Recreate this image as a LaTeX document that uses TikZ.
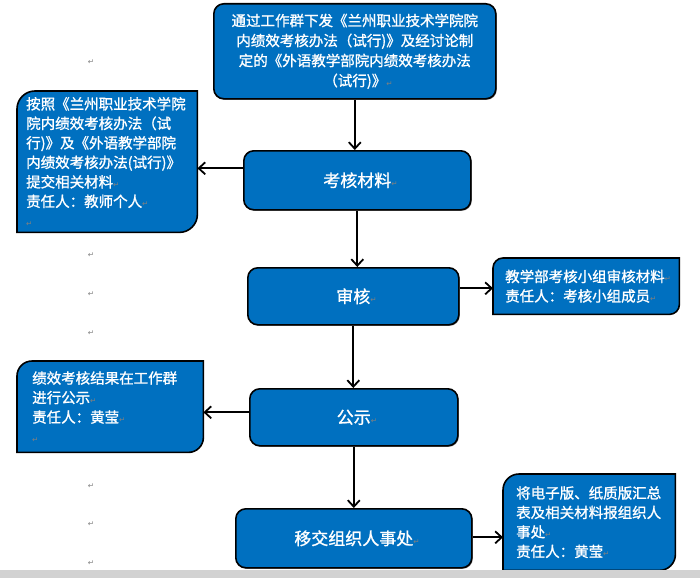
\documentclass[tikz,border=0pt]{standalone}
\usepackage{fontspec}
\setmainfont{Noto Sans CJK SC}[AutoFakeBold=1.2]
\newfontfamily\symfont{DejaVu Sans}
\usetikzlibrary{arrows.meta,shadows,backgrounds}
\definecolor{boxblue}{RGB}{0,112,192}
\definecolor{markgray}{RGB}{128,128,128}
\newcommand{\retmark}{{\mdseries\symfont\fontsize{7.5}{8}\selectfont\color{markgray}↵}}

\tikzset{
  mainbox/.style={rectangle, rounded corners=10pt, draw=black, line width=1.6pt,
    fill=boxblue, text=white, anchor=north west, inner sep=0pt,
    font=\fontsize{17}{20}\selectfont\bfseries,
    drop shadow={shadow xshift=1pt, shadow yshift=-1pt, fill=black, opacity=.5}},
  sidetext/.style={rectangle, anchor=north west, inner sep=0pt, text=white,
    align=left, font=\fontsize{14.5}{19.5}\selectfont\bfseries},
  sideline/.style={draw=black, line width=1.6pt, fill=boxblue},
  flow/.style={-{Straight Barb[length=6.5pt,width=12pt]}, line width=1.8pt},
  retnode/.style={inner sep=0pt}
}

\begin{document}
\begin{tikzpicture}[x=1pt, y=-1pt]
  \useasboundingbox (0,0) rectangle (700,578);

  % main flow
  \node[mainbox, minimum width=282pt, minimum height=95pt, align=center,
    font=\fontsize{14.5}{20}\selectfont\bfseries] (start) at (213,3)
    {通过工作群下发《兰州职业技术学院院\\内绩效考核办法（试行)》及经讨论制\\定的《外语教学部院内绩效考核办法\\（试行)》\rlap{\retmark}};
  \node[mainbox, minimum width=227pt, minimum height=59pt] (material) at (243,150) {考核材料\rlap{\retmark}};
  \node[mainbox, minimum width=211pt, minimum height=57pt] (review) at (247,267) {审核\rlap{\retmark}};
  \node[mainbox, minimum width=208pt, minimum height=57pt] (publish) at (249,388) {公示\rlap{\retmark}};
  \node[mainbox, minimum width=236pt, minimum height=59pt] (transfer) at (235,508) {移交组织人事处\rlap{\retmark}};

  % side notes
  \node[sidetext, minimum width=180pt, minimum height=141pt, text width=162pt] (submitnote) at (17,91)
    {按照《兰州职业技术学院\\院内绩效考核办法（试\\行)》及《外语教学部院\\内绩效考核办法(试行)》\\提交相关材料\retmark\\责任人：教师个人\retmark\\\retmark};
  \node[sidetext, minimum width=186pt, minimum height=56pt, text width=162pt] (reviewnote) at (493,258)
    {教学部考核小组审核材料\retmark\\责任人：考核小组成员\retmark};
  \node[sidetext, minimum width=186pt, minimum height=91pt, text width=156pt] (publishnote) at (17,361)
    {绩效考核结果在工作群\\进行公示\retmark\\责任人：黄莹\retmark\\\retmark};
  \node[sidetext, minimum width=172pt, minimum height=96pt, text width=146pt] (transfernote) at (503,474)
    {将电子版、纸质版汇总\\表及相关材料报组织人\\事处\retmark\\责任人：黄莹\retmark};

  \begin{scope}[on background layer]
    \foreach \n/\r in {submitnote/18, reviewnote/10, publishnote/15, transfernote/16}
      \draw[sideline] ([yshift=-\r pt]\n.north west) arc[start angle=180, end angle=90, radius=\r pt]
        -- (\n.north east) -- ([yshift=\r pt]\n.south east)
        arc[start angle=0, end angle=-90, radius=\r pt] -- (\n.south west) -- cycle;
  \end{scope}

  % connectors
  \draw[flow] (start.south) -- (start.south |- material.north);
  \draw[flow] (material.south) -- (material.south |- review.north);
  \draw[flow] (review.south) -- (review.south |- publish.north);
  \draw[flow] (publish.south) -- (publish.south |- transfer.north);
  \draw[flow] ([yshift=12pt]material.west) -- ([yshift=12pt]material.west -| submitnote.east);
  \draw[flow] ([yshift=8pt]review.east) -- ([yshift=8pt]review.east -| reviewnote.west);
  \draw[flow] ([yshift=5pt]publish.west) -- ([yshift=5pt]publish.west -| publishnote.east);
  \draw[flow] ([yshift=1pt]transfer.east) -- ([yshift=1pt]transfer.east -| transfernote.west);

  % paragraph marks
  \foreach \y [count=\i] in {62,255,294,333,486,524,563}
    \node[retnode] (mark\i) at (91,\y) {\retmark};

  \fill[gray!35] (0,570) rectangle (700,578);
\end{tikzpicture}
\end{document}
